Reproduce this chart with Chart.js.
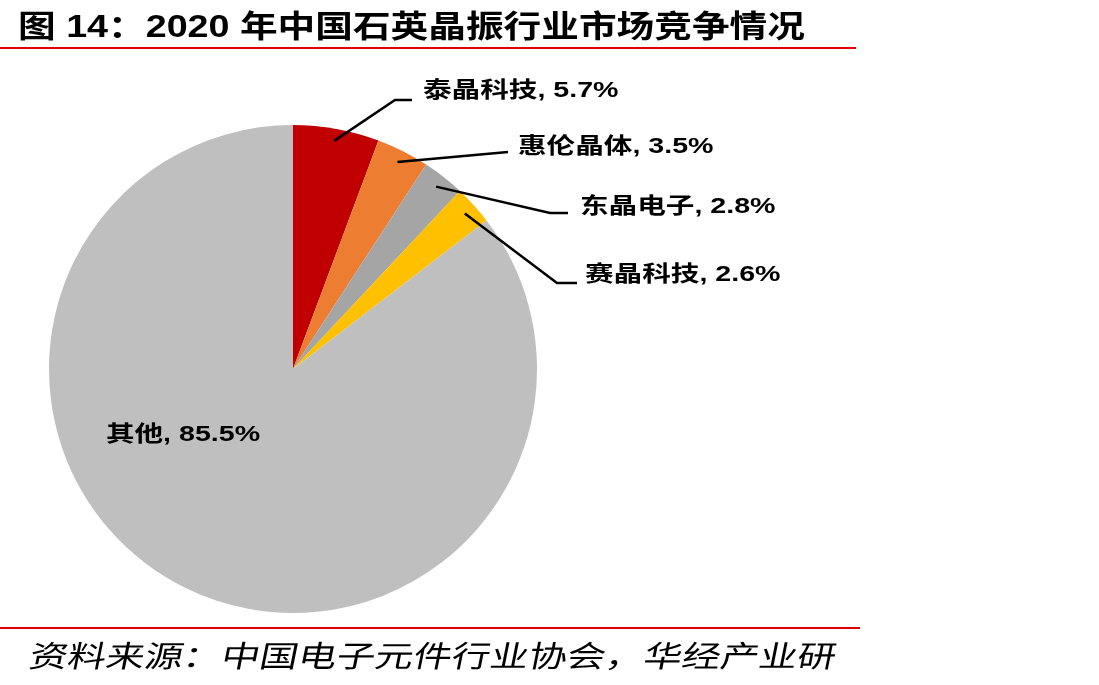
<!DOCTYPE html>
<html>
<head>
<meta charset="utf-8">
<script src="https://cdn.jsdelivr.net/npm/chart.js@4"></script>
<style>
  html, body { margin: 0; padding: 0; background: #fff; }
  #wrap { position: relative; width: 1099px; height: 685px; }
</style>
</head>
<body>
<div id="wrap"><canvas id="grafico" width="1099" height="685"></canvas></div>
<script>
const empresas = ['泰晶科技', '惠伦晶体', '东晶电子', '赛晶科技', '其他'];
const cuota = [5.7, 3.5, 2.8, 2.6, 85.5];
const colores = ['#C00000', '#ED7D31', '#A5A5A5', '#FFC000', '#BFBFBF'];

const titulo = '图 14：2020 年中国石英晶振行业市场竞争情况';
const fuente = '资料来源：中国电子元件行业协会，华经产业研';

// label placement: elbow point, line end, text left/centre, text y
const posEtiquetas = [
  { codo: [395, 100], fin: [412, 100], tx: 423, ty: 91, align: 'left' },
  { codo: null, fin: [508, 152], tx: 518, ty: 147, align: 'left' },
  { codo: [550, 213], fin: [568, 213], tx: 580, ty: 207, align: 'left' },
  { codo: [557, 283], fin: [577, 283], tx: 585, ty: 275, align: 'left' },
  { codo: null, fin: null, tx: 183, ty: 435, align: 'center' }
];

const fontLabel = 'bold 22px "Liberation Sans", "Noto Sans CJK SC", sans-serif';

function textoEstirado(ctx, txt, x, y, sx, align, skew) {
  ctx.save();
  ctx.translate(x, y);
  if (skew) ctx.transform(1, 0, skew, 1, 0, 0);
  ctx.scale(sx, 1);
  ctx.textAlign = align;
  ctx.textBaseline = 'middle';
  ctx.fillText(txt, 0, 0);
  ctx.restore();
}

const etiquetasPlugin = {
  id: 'etiquetas',
  afterDraw(chart) {
    const ctx = chart.ctx;
    const meta = chart.getDatasetMeta(0);
    ctx.save();
    ctx.fillStyle = '#000';
    ctx.strokeStyle = '#000';
    ctx.lineWidth = 2.5;
    meta.data.forEach((arc, i) => {
      const p = posEtiquetas[i];
      const mid = (arc.startAngle + arc.endAngle) / 2;
      if (p.fin) {
        const r = arc.outerRadius * 0.95;
        ctx.beginPath();
        ctx.moveTo(arc.x + r * Math.cos(mid), arc.y + r * Math.sin(mid));
        if (p.codo) ctx.lineTo(p.codo[0], p.codo[1]);
        ctx.lineTo(p.fin[0], p.fin[1]);
        ctx.stroke();
      }
      ctx.font = fontLabel;
      textoEstirado(ctx, empresas[i] + ', ' + cuota[i].toFixed(1) + '%', p.tx, p.ty, 1.3, p.align, 0);
    });

    // title, rules and source
    ctx.font = 'bold 31px "Liberation Sans", "Noto Sans CJK SC", sans-serif';
    textoEstirado(ctx, titulo, 18, 28, 1.215, 'left', 0);
    ctx.fillStyle = '#E00000';
    ctx.fillRect(0, 47, 856, 2);
    ctx.fillRect(0, 627, 860, 2);
    ctx.fillStyle = '#000';
    ctx.font = '30px "Noto Sans CJK SC", sans-serif';
    textoEstirado(ctx, fuente, 30, 656, 1.28, 'left', -0.2);
    ctx.restore();
  }
};

new Chart(document.getElementById('grafico'), {
  type: 'pie',
  data: {
    labels: empresas,
    datasets: [{
      data: cuota,
      backgroundColor: colores,
      borderWidth: 0
    }]
  },
  options: {
    responsive: false,
    animation: false,
    layout: { padding: { left: 49, right: 562, top: 125, bottom: 72 } },
    plugins: {
      legend: { display: false },
      tooltip: { enabled: false }
    }
  },
  plugins: [etiquetasPlugin]
});
</script>
</body>
</html>
